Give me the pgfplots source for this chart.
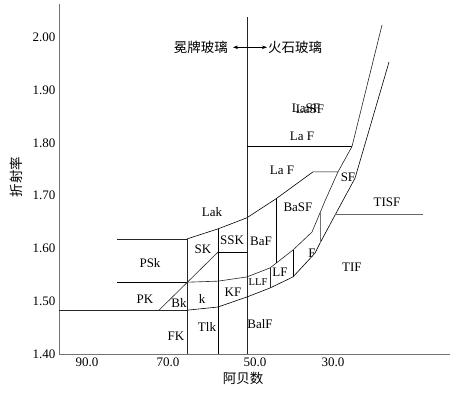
\documentclass[border=0pt]{standalone}
\usepackage{fontspec}
\setmainfont{Liberation Serif}
\newfontfamily\cjk{Noto Sans CJK SC}
\usepackage{pgfplots}
\pgfplotsset{compat=1.18}
\usetikzlibrary{arrows.meta}
\newcommand\fs{\fontsize{13}{15}\selectfont}
\newcommand\fc{\fontsize{13.5}{15}\selectfont\cjk}
\begin{document}
\begin{tikzpicture}
\begin{axis}[
 at={(0,0)}, anchor=south west,
 scale only axis, width=391pt, height=350pt,
 x dir=reverse,
 xmin=1.46, xmax=96.83, ymin=1.40, ymax=2.063,
 axis x line*=bottom, axis y line*=left,
 axis line style={-, draw=black!55, line width=0.8pt},
 tick style={draw=none},
 xtick={90,70.24,49.02,30}, xticklabels={90.0,70.0,50.0,30.0},
 ytick={1.4,1.5,1.6,1.7,1.8,1.9,2.0},
 yticklabels={1.40,1.50,1.60,1.70,1.80,1.90,2.00},
 ticklabel style={font=\fs},
 xlabel={阿贝数}, ylabel={折射率},
 xlabel style={at={(axis description cs:0.4706,-0.0686)}, anchor=center, font=\fc},
 ylabel style={at={(axis description cs:-0.110,0.506)}, anchor=center, font=\fc},
 clip=false, no markers,
 cycle list={{black!85,solid}},
 every axis plot/.append style={line width=0.6pt},
]
% horizontal lines left part
\addplot coordinates {(96.83,1.483) (65.61,1.483)};
\addplot coordinates {(82.6,1.536) (65.61,1.536)};
\addplot coordinates {(82.6,1.618) (65.61,1.618)};
% Lak / LaF boundary
\addplot coordinates {(65.61,1.618) (58.05,1.637) (51.0,1.658) (43.9,1.694) (34.88,1.745) (28.78,1.745)};
% verticals
\addplot coordinates {(65.61,1.618) (65.61,1.40)};
\addplot coordinates {(58.05,1.637) (58.05,1.40)};
\addplot coordinates {(51.0,2.038) (51.0,1.40)};
% SSK bottom and SK diagonal
\addplot coordinates {(58.05,1.593) (51.0,1.593)};
\addplot coordinates {(72.44,1.483) (58.05,1.593)};
% LaF horizontal
\addplot coordinates {(51.0,1.793) (25.37,1.793)};
% band upper line
\addplot coordinates {(18.05,2.023) (25.37,1.793) (28.78,1.745) (31.95,1.690) (35.12,1.631) (39.76,1.597) (45.37,1.563) (51.0,1.546) (58.05,1.538) (65.61,1.536)};
% band lower line
\addplot coordinates {(16.34,1.953) (24.63,1.733) (29.51,1.663) (33.17,1.610) (34.39,1.591) (39.76,1.546) (45.37,1.525) (51.0,1.508) (58.05,1.489) (65.61,1.483)};
% band verticals
\addplot coordinates {(45.37,1.563) (45.37,1.525)};
\addplot coordinates {(39.76,1.597) (39.76,1.546)};
\addplot[black!55, solid] coordinates {(33.17,1.669) (33.17,1.610)};
% BaF / BaSF vertical
\addplot coordinates {(43.9,1.694) (43.9,1.572)};
% TISF horizontal
\addplot[black!60, solid] coordinates {(29.39,1.665) (8.05,1.665)};
% arrow
\draw[{Stealth[length=5pt,width=3.5pt]}-{Stealth[length=5pt,width=3.5pt]}, line width=0.5pt] (axis cs:54.39,1.981) -- (axis cs:46.1,1.981);
\node[font=\fc, anchor=east, inner sep=0pt] at (axis cs:55.61,1.981) {冕牌玻璃};
\node[font=\fc, anchor=west, inner sep=0pt] at (axis cs:45.9,1.981) {火石玻璃};
% region labels
\begin{scope}[every node/.style={font=\fs, inner sep=0pt}]
\node at (axis cs:59.51,1.669) {Lak};
\node at (axis cs:42.44,1.748) {La F};
\node at (axis cs:37.56,1.813) {La F};
\node at (axis cs:36.6,1.866) {LaSF};
\node at (axis cs:35.6,1.864) {LaSF};
\node at (axis cs:38.54,1.678) {BaSF};
\node at (axis cs:16.83,1.688) {TISF};
\node at (axis cs:26.34,1.735) {SF};
\node at (axis cs:54.63,1.616) {SSK};
\node at (axis cs:47.56,1.614) {BaF};
\node at (axis cs:61.71,1.599) {SK};
\node at (axis cs:74.63,1.572) {PSk};
\node at (axis cs:75.85,1.504) {PK};
\node at (axis cs:67.56,1.497) {Bk};
\node at (axis cs:61.95,1.504) {k};
\node at (axis cs:54.39,1.517) {KF};
\node[font=\fontsize{10.5}{12}\selectfont] at (axis cs:48.29,1.536) {LLF};
\node at (axis cs:42.93,1.555) {LF};
\node at (axis cs:35.12,1.591) {F};
\node at (axis cs:25.37,1.565) {TIF};
\node at (axis cs:47.8,1.457) {BalF};
\node at (axis cs:68.29,1.434) {FK};
\node at (axis cs:60.73,1.451) {Tlk};
\end{scope}
\end{axis}
\pgfresetboundingbox
\path[use as bounding box] (-59pt,-40pt) rectangle (401pt,354pt);
\end{tikzpicture}
\end{document}
